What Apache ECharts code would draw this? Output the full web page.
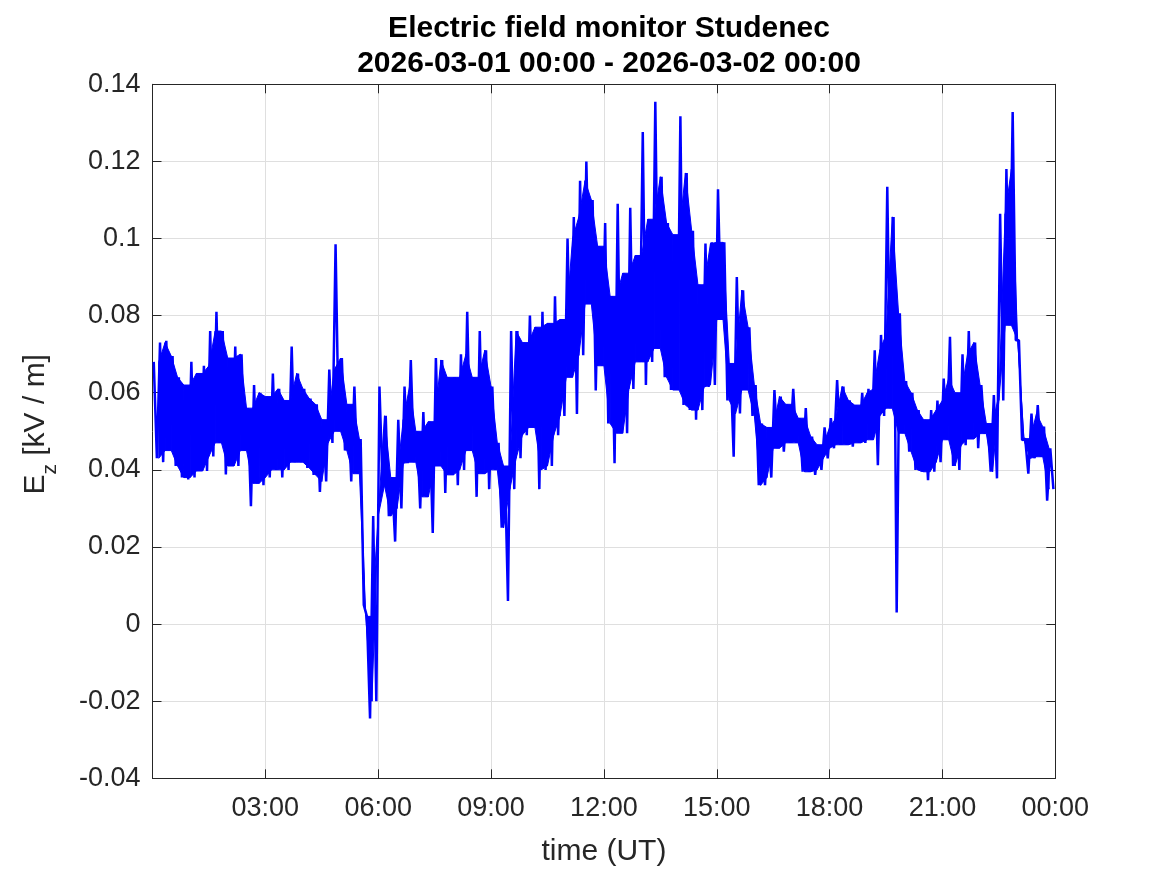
<!DOCTYPE html>
<html>
<head>
<meta charset="utf-8">
<script src="https://cdn.jsdelivr.net/npm/echarts@6/dist/echarts.min.js"></script>
<style>
html,body{margin:0;padding:0;background:#fff;}
#chart{width:1167px;height:875px;}
</style>
</head>
<body>
<div id="chart"></div>
<script>
// 10-minute bins across 2026-03-01 00:00 .. 2026-03-02 00:00 (UT)
const binMinutes = 10;
// upper envelope per bin (kV/m)
const ezHigh = [
0.068,0.073,0.0735,0.0695,0.064,0.062,0.068,0.065,0.067,0.076,0.081,0.076,
0.069,0.072,0.070,0.056,0.062,0.060,0.059,0.065,0.061,0.058,0.072,0.065,
0.061,0.0585,0.057,0.053,0.066,0.0985,0.069,0.057,0.0616,0.048,0.002,0.028,
0.0616,0.054,0.038,0.053,0.0616,0.0685,0.050,0.055,0.0525,0.069,0.0685,0.064,
0.064,0.070,0.081,0.064,0.076,0.071,0.0616,0.047,0.041,0.076,0.076,0.073,
0.080,0.077,0.081,0.078,0.085,0.079,0.100,0.1056,0.115,0.120,0.110,0.098,
0.104,0.085,0.109,0.091,0.108,0.0956,0.1276,0.105,0.1355,0.116,0.104,0.101,
0.1317,0.117,0.102,0.088,0.0987,0.099,0.1128,0.099,0.0676,0.090,0.0866,0.077,
0.062,0.052,0.051,0.0607,0.059,0.057,0.061,0.0534,0.056,0.0486,0.0465,0.051,
0.0534,0.0633,0.0616,0.058,0.0568,0.060,0.061,0.071,0.075,0.1134,0.1056,0.0806,
0.063,0.060,0.0555,0.053,0.0555,0.058,0.0637,0.0745,0.060,0.070,0.076,0.073,
0.062,0.052,0.0594,0.1064,0.118,0.1328,0.0736,0.0481,0.0546,0.0568,0.0512,0.0456
];
// lower envelope per bin (kV/m)
const ezLow = [
0.043,0.042,0.045,0.041,0.038,0.0375,0.038,0.0397,0.0397,0.0435,0.047,0.0388,
0.041,0.041,0.045,0.0306,0.0365,0.036,0.038,0.040,0.038,0.040,0.042,0.042,
0.0405,0.0387,0.0343,0.037,0.047,0.050,0.045,0.037,0.039,0.005,-0.0245,-0.020,
0.036,0.028,0.0214,0.030,0.0417,0.042,0.030,0.033,0.0236,0.041,0.034,0.0387,
0.036,0.040,0.045,0.033,0.039,0.035,0.040,0.025,0.006,0.035,0.043,0.049,
0.051,0.035,0.040,0.041,0.049,0.054,0.064,0.0545,0.0697,0.083,0.0606,0.067,
0.052,0.0417,0.0495,0.0495,0.061,0.068,0.062,0.068,0.0715,0.064,0.0607,0.0607,
0.0568,0.0555,0.053,0.0555,0.0615,0.062,0.079,0.058,0.0434,0.0546,0.0607,0.054,
0.036,0.036,0.038,0.0456,0.0447,0.047,0.047,0.0395,0.0395,0.0387,0.040,0.043,
0.0456,0.0465,0.0465,0.046,0.047,0.047,0.0478,0.0412,0.054,0.056,0.003,0.0495,
0.0447,0.040,0.0395,0.0373,0.0395,0.042,0.0478,0.041,0.040,0.0464,0.048,0.0456,
0.0494,0.0395,0.0378,0.058,0.0775,0.0736,0.0477,0.039,0.043,0.0434,0.032,0.035
];
const yTicks = [-0.04,-0.02,0,0.02,0.04,0.06,0.08,0.1,0.12,0.14];
const xTickMinutes = [0,180,360,540,720,900,1080,1260,1440];

// zig-zag trace through each bin's extremes
const pts = [];
for (let i = 0; i < ezHigh.length; i++) {
  pts.push([i*binMinutes + 2, ezHigh[i]]);
  pts.push([i*binMinutes + 7, ezLow[i]]);
}
// dense core: range shared by two neighbouring bins, placed at their common boundary
const coreX = [], coreTop = [], coreBot = [];
for (let i = 0; i + 1 < ezHigh.length; i++) {
  const t = Math.min(ezHigh[i], ezHigh[i+1]);
  const b = Math.max(ezLow[i], ezLow[i+1]);
  coreX.push((i+1)*binMinutes);
  coreTop.push(t);
  coreBot.push(Math.min(b, t));
}
const coreSegs = [];
for (let j = 0; j + 1 < coreX.length; j++) {
  coreSegs.push([coreX[j], coreX[j+1], coreTop[j], coreTop[j+1], coreBot[j], coreBot[j+1]]);
}

const FONT = '"Liberation Sans", Arial, Helvetica, sans-serif';
const AX = '#262626';
const GRIDC = '#dfdfdf';
const BLUE = '#0000ff';

function fmtTime(v){
  if (v === 0) return '';
  const m = Math.round(v) % 1440;
  const h = Math.floor(m/60), mm = m % 60;
  return String(h).padStart(2,'0') + ':' + String(mm).padStart(2,'0');
}

const chart = echarts.init(document.getElementById('chart'), null, {renderer:'canvas'});
chart.setOption({
  animation: false,
  backgroundColor: '#fff',
  textStyle: {fontFamily: FONT},
  title: {
    text: 'Electric field monitor Studenec\n2026-03-01 00:00 - 2026-03-02 00:00',
    left: 604, top: 6, textAlign: 'center',
    textStyle: {fontFamily: FONT, fontSize: 30, fontWeight: 'bold', color: '#000', lineHeight: 35}
  },
  grid: {left: 152.5, right: 111.7, top: 84.3, bottom: 96.7, containLabel: false},
  xAxis: [{
    type: 'value', min: xTickMinutes[0], max: xTickMinutes[xTickMinutes.length-1], interval: 180,
    position: 'bottom',
    name: 'time (UT)', nameLocation: 'middle', nameGap: 58,
    nameTextStyle: {fontFamily: FONT, fontSize: 30, color: AX},
    axisLine: {show: true, onZero: false, lineStyle: {color: AX, width: 1}},
    axisTick: {show: true, inside: true, length: 9, lineStyle: {color: AX}},
    axisLabel: {fontFamily: FONT, fontSize: 27, color: AX, margin: 17, formatter: fmtTime, showMinLabel: true, showMaxLabel: true},
    splitLine: {show: true, lineStyle: {color: GRIDC, width: 1}}
  },{
    type: 'value', min: xTickMinutes[0], max: xTickMinutes[xTickMinutes.length-1], interval: 180,
    position: 'top',
    axisLine: {show: true, onZero: false, lineStyle: {color: AX, width: 1}},
    axisTick: {show: true, inside: true, length: 9, lineStyle: {color: AX}},
    axisLabel: {show: false},
    splitLine: {show: false}
  }],
  yAxis: [{
    type: 'value', min: yTicks[0], max: yTicks[yTicks.length-1], interval: 0.02,
    position: 'left',
    name: '{e|E}{s|z}{e| [kV / m]}', nameLocation: 'middle', nameGap: 92, nameRotate: 90,
    nameTextStyle: {
      color: AX,
      padding: [0, 0, 0, 14],
      rich: {
        e: {fontFamily: FONT, fontSize: 30, color: AX, lineHeight: 40, verticalAlign: 'top'},
        s: {fontFamily: FONT, fontSize: 21, color: AX, lineHeight: 26, verticalAlign: 'bottom'}
      }
    },
    axisLine: {show: true, onZero: false, lineStyle: {color: AX, width: 1}},
    axisTick: {show: true, inside: true, length: 9, lineStyle: {color: AX}},
    axisLabel: {fontFamily: FONT, fontSize: 27, color: AX, margin: 12,
      formatter: v => String(+v.toFixed(2))},
    splitLine: {show: true, lineStyle: {color: GRIDC, width: 1}}
  },{
    type: 'value', min: yTicks[0], max: yTicks[yTicks.length-1], interval: 0.02,
    position: 'right',
    axisLine: {show: true, onZero: false, lineStyle: {color: AX, width: 1}},
    axisTick: {show: true, inside: true, length: 9, lineStyle: {color: AX}},
    axisLabel: {show: false},
    splitLine: {show: false}
  }],
  series: [{
    type: 'custom',
    xAxisIndex: 0, yAxisIndex: 0,
    data: coreSegs,
    encode: {x: [0, 1], y: [2, 3, 4, 5]},
    renderItem: function (params, api) {
      const a = api.coord([api.value(0), api.value(2)]);
      const b = api.coord([api.value(1), api.value(3)]);
      const c = api.coord([api.value(1), api.value(5)]);
      const d = api.coord([api.value(0), api.value(4)]);
      return {
        type: 'polygon',
        shape: {points: [a, b, c, d]},
        style: {fill: BLUE, stroke: BLUE, lineWidth: 1}
      };
    },
    z: 4
  },{
    type: 'line',
    xAxisIndex: 0, yAxisIndex: 0,
    data: pts,
    showSymbol: false,
    symbol: 'none',
    sampling: null,
    lineStyle: {color: BLUE, width: 2.5},
    z: 5
  }]
});
</script>
</body>
</html>
